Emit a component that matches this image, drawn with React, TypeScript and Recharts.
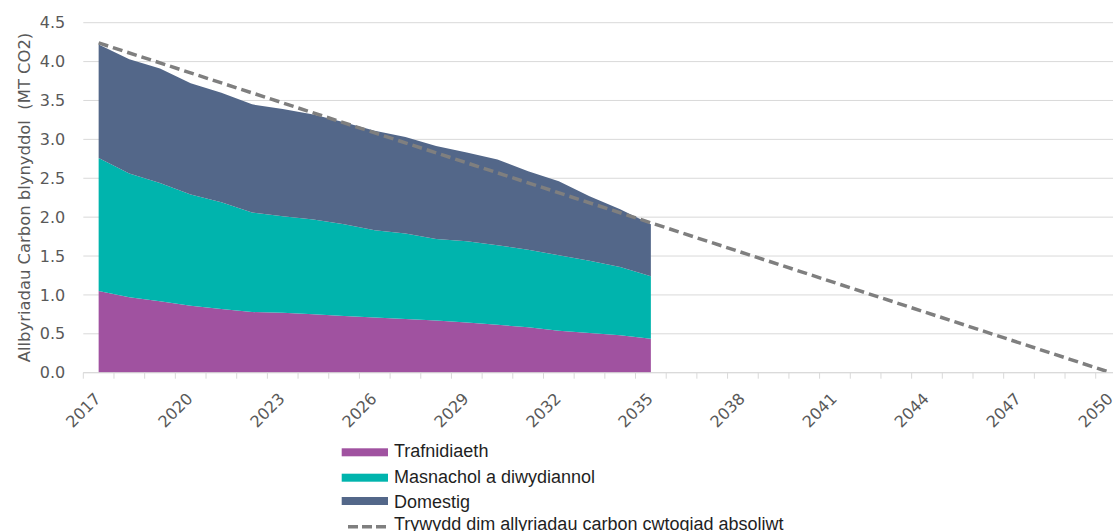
import React from 'react';
import { AreaChart, Area, Line, XAxis, YAxis, CartesianGrid, Legend, Label } from 'recharts';

// Annual carbon emissions (MT CO2) by sector, 2017–2035
const years = [2017, 2018, 2019, 2020, 2021, 2022, 2023, 2024, 2025, 2026, 2027, 2028, 2029, 2030, 2031, 2032, 2033, 2034, 2035];
const trafnidiaeth = [1.05, 0.97, 0.92, 0.86, 0.82, 0.78, 0.77, 0.75, 0.73, 0.71, 0.69, 0.67, 0.645, 0.615, 0.585, 0.54, 0.51, 0.48, 0.435];
const masnachol = [1.71, 1.59, 1.52, 1.43, 1.37, 1.28, 1.24, 1.22, 1.18, 1.12, 1.1, 1.05, 1.045, 1.025, 0.995, 0.97, 0.93, 0.88, 0.805];
const domestig = [1.46, 1.47, 1.47, 1.43, 1.41, 1.39, 1.38, 1.35, 1.31, 1.28, 1.24, 1.195, 1.14, 1.1, 1.01, 0.95, 0.83, 0.74, 0.67];

// Absolute-reduction zero-carbon trajectory (straight line between its end points)
const trajectoryYears = [2017, 2050];
const trajectoryValues = [4.24, 0];

// Axis settings
const firstYear = 2017;
const lastYear = 2050;
const xLabelYears = [2017, 2020, 2023, 2026, 2029, 2032, 2035, 2038, 2041, 2044, 2047, 2050];
const yTicks = [0, 0.5, 1, 1.5, 2, 2.5, 3, 3.5, 4, 4.5];

const yTitle = 'Allbyriadau Carbon blynyddol  (MT CO2)';
const names = {
  trafnidiaeth: 'Trafnidiaeth',
  masnachol: 'Masnachol a diwydiannol',
  domestig: 'Domestig',
  trywydd: 'Trywydd dim allyriadau carbon cwtogiad absoliwt',
};
const legendOrder = [names.trafnidiaeth, names.masnachol, names.domestig, names.trywydd];

const COLORS = {
  trafnidiaeth: '#A052A0',
  masnachol: '#00B4AD',
  domestig: '#536789',
  trywydd: '#7F7F7F',
};

const data = years.map((year, i) => ({
  year,
  trafnidiaeth: trafnidiaeth[i],
  masnachol: masnachol[i],
  domestig: domestig[i],
}));

const trajectory = trajectoryYears.map((year, i) => ({ year, trywydd: trajectoryValues[i] }));

// Category boundaries, where the small tick marks sit
const boundaryTicks = Array.from({ length: lastYear - firstYear + 2 }, (_, i) => firstYear - 0.5 + i);

// Layout
const CW = 1150;
const CH = 531;
const PLOT_LEFT = 83.3;
const PLOT_RIGHT = 1126.4;
const PLOT_TOP = 22.7;
const PLOT_BOTTOM = 372.7;
const X_AXIS_H = 60;
const BAND = (PLOT_RIGHT - PLOT_LEFT) / (lastYear - firstYear + 1);

const TICK_FONT = "'DejaVu Sans', sans-serif";
const AXIS_GREY = '#D9D9D9';
const TEXT_GREY = '#595959';

const XTick = (props: any) => {
  const { x, y, payload } = props;
  const year = Math.round(payload.value + 0.5);
  if (!xLabelYears.includes(year)) return <g />;
  return (
    <g transform={`translate(${x + BAND / 2 + 3},${y + 19})`}>
      <text transform="rotate(-45)" textAnchor="end" fill={TEXT_GREY} fontSize={16} fontFamily={TICK_FONT}>
        {year}
      </text>
    </g>
  );
};

const YTitle = () => (
  <text
    x={30}
    y={197.5}
    transform="rotate(-90, 30, 197.5)"
    textAnchor="middle"
    fill={TEXT_GREY}
    fontSize={16.4}
    fontFamily={TICK_FONT}
    style={{ whiteSpace: 'pre' }}
  >
    {yTitle}
  </text>
);

// Legend rows: swatch centre and text baseline, relative to the legend box
const legendRowCentre = [22.3, 47.7, 71, 96.7];
const legendRowBaseline = [27.3, 53.3, 78, 100];

const renderLegend = (props: any) => {
  const payload = [...(props.payload || [])].sort(
    (a: any, b: any) => legendOrder.indexOf(a.value) - legendOrder.indexOf(b.value)
  );
  return (
    <svg width={800} height={101} style={{ display: 'block' }}>
      {payload.map((entry: any, i: number) => {
        const cy = legendRowCentre[i];
        const isLine = entry.type === 'plainline';
        return (
          <g key={entry.value}>
            {isLine ? (
              <line x1={28} x2={69} y1={cy} y2={cy} stroke={entry.color} strokeWidth={3.5} strokeDasharray="10 4" />
            ) : (
              <rect x={21.7} y={cy - 4} width={46.3} height={8} fill={entry.color} />
            )}
            <text
              x={74}
              y={legendRowBaseline[i]}
              fontSize={18}
              fontFamily="'Liberation Sans', Arial, sans-serif"
              fill="#1F1F1F"
            >
              {entry.value}
            </text>
          </g>
        );
      })}
    </svg>
  );
};

export default function App() {
  return (
    <div
      style={{
        position: 'fixed',
        left: 0,
        top: 0,
        width: 1113,
        height: 531,
        overflow: 'hidden',
        background: '#FFFFFF',
      }}
    >
      <AreaChart
        width={CW}
        height={CH}
        data={data}
        margin={{ top: PLOT_TOP, right: CW - PLOT_RIGHT, left: 0, bottom: CH - PLOT_BOTTOM - X_AXIS_H }}
      >
        <CartesianGrid horizontal vertical={false} stroke={AXIS_GREY} strokeWidth={1} />
        <XAxis
          dataKey="year"
          type="number"
          domain={[firstYear - 0.5, lastYear + 0.5]}
          ticks={boundaryTicks}
          interval={0}
          height={X_AXIS_H}
          axisLine={{ stroke: AXIS_GREY }}
          tickLine={{ stroke: AXIS_GREY }}
          tickSize={6}
          tickMargin={2}
          tick={<XTick />}
          allowDataOverflow
        />
        <YAxis
          type="number"
          domain={[0, 4.5]}
          ticks={yTicks}
          interval={0}
          width={PLOT_LEFT}
          axisLine={false}
          tickLine={false}
          tickSize={6}
          tickMargin={12}
          tickFormatter={(v: number) => v.toFixed(1)}
          tick={{ fill: TEXT_GREY, fontSize: 16, fontFamily: TICK_FONT }}
        >
          <Label content={<YTitle />} />
        </YAxis>
        <Area
          type="linear"
          dataKey="trafnidiaeth"
          name={names.trafnidiaeth}
          stackId="1"
          fill={COLORS.trafnidiaeth}
          stroke={COLORS.trafnidiaeth}
          strokeWidth={0}
          fillOpacity={1}
          legendType="rect"
          isAnimationActive={false}
          dot={false}
          activeDot={false}
        />
        <Area
          type="linear"
          dataKey="masnachol"
          name={names.masnachol}
          stackId="1"
          fill={COLORS.masnachol}
          stroke={COLORS.masnachol}
          strokeWidth={0}
          fillOpacity={1}
          legendType="rect"
          isAnimationActive={false}
          dot={false}
          activeDot={false}
        />
        <Area
          type="linear"
          dataKey="domestig"
          name={names.domestig}
          stackId="1"
          fill={COLORS.domestig}
          stroke={COLORS.domestig}
          strokeWidth={0}
          fillOpacity={1}
          legendType="rect"
          isAnimationActive={false}
          dot={false}
          activeDot={false}
        />
        <Line
          type="linear"
          data={trajectory}
          dataKey="trywydd"
          name={names.trywydd}
          stroke={COLORS.trywydd}
          strokeWidth={3.5}
          strokeDasharray="10 5"
          legendType="plainline"
          dot={false}
          activeDot={false}
          isAnimationActive={false}
        />
        <Legend
          layout="horizontal"
          verticalAlign="middle"
          align="center"
          content={renderLegend}
          wrapperStyle={{ position: 'absolute', left: 320, top: 430, width: 800, height: 101 }}
        />
      </AreaChart>
    </div>
  );
}
